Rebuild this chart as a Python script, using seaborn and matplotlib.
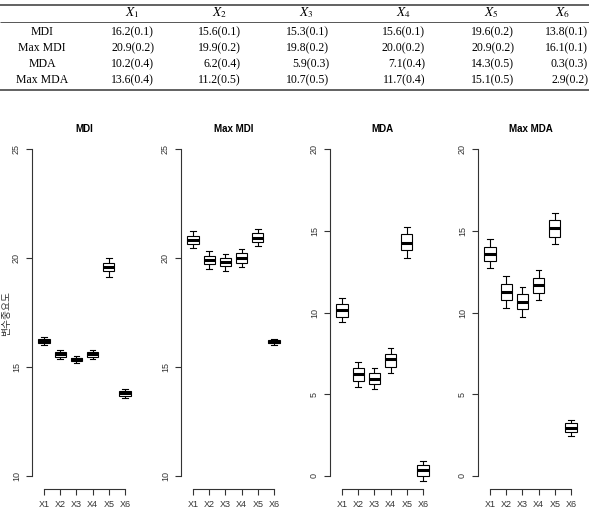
import pandas as pd
import matplotlib
matplotlib.use('Agg')
import matplotlib.pyplot as plt
import seaborn as sns
import numpy as np

# Table values: mean(sd) of variable importance
row_labels = ['MDI', 'Max MDI', 'MDA', 'Max MDA']
col_labels = [r'$X_1$', r'$X_2$', r'$X_3$', r'$X_4$', r'$X_5$', r'$X_6$']
tab_means = [[16.2, 15.6, 15.3, 15.6, 19.6, 13.8],
             [20.9, 19.9, 19.8, 20.0, 20.9, 16.1],
             [10.2, 6.2, 5.9, 7.1, 14.3, 0.3],
             [13.6, 11.2, 10.7, 11.7, 15.1, 2.9]]
tab_sds = [[0.1, 0.1, 0.1, 0.1, 0.2, 0.1],
           [0.2, 0.2, 0.2, 0.2, 0.2, 0.1],
           [0.4, 0.4, 0.3, 0.4, 0.5, 0.3],
           [0.4, 0.5, 0.5, 0.4, 0.5, 0.2]]

# Boxplot summaries: [low whisker, q1, median, q3, high whisker]
variables = ['X1', 'X2', 'X3', 'X4', 'X5', 'X6']
mdi = [[15.99, 16.08, 16.19, 16.28, 16.39],
       [15.35, 15.47, 15.58, 15.67, 15.78],
       [15.16, 15.26, 15.35, 15.42, 15.50],
       [15.36, 15.46, 15.58, 15.67, 15.78],
       [19.15, 19.41, 19.61, 19.79, 20.02],
       [13.59, 13.68, 13.79, 13.89, 13.98]]
max_mdi = [[20.46, 20.65, 20.83, 21.03, 21.23],
           [19.50, 19.71, 19.91, 20.11, 20.33],
           [19.42, 19.64, 19.84, 20.02, 20.17],
           [19.58, 19.79, 20.02, 20.22, 20.42],
           [20.53, 20.73, 20.94, 21.14, 21.35],
           [16.02, 16.08, 16.16, 16.24, 16.30]]
mda = [[9.42, 9.74, 10.15, 10.52, 10.91],
       [5.45, 5.82, 6.23, 6.60, 6.97],
       [5.29, 5.60, 5.92, 6.27, 6.58],
       [6.31, 6.66, 7.13, 7.48, 7.84],
       [13.34, 13.83, 14.28, 14.79, 15.26],
       [-0.31, -0.02, 0.35, 0.65, 0.94]]
max_mda = [[12.75, 13.18, 13.61, 14.03, 14.48],
           [10.26, 10.75, 11.24, 11.73, 12.24],
           [9.74, 10.21, 10.66, 11.13, 11.58],
           [10.77, 11.22, 11.69, 12.13, 12.60],
           [14.20, 14.65, 15.16, 15.63, 16.08],
           [2.47, 2.70, 2.96, 3.21, 3.41]]

panels = [('MDI', mdi, (10, 25)), ('Max MDI', max_mdi, (10, 25)),
          ('MDA', mda, (0, 20)), ('Max MDA', max_mda, (0, 20))]

W, H = 589, 509
plt.rcParams['font.family'] = ['Liberation Sans', 'Noto Sans CJK KR']
plt.rcParams['mathtext.fontset'] = 'stix'
fig = plt.figure(figsize=(W / 100, H / 100), dpi=100)

# ---- table ----
tab = fig.add_axes([0, (H - 95) / H, 1, 95 / H])
tab.set_xlim(0, W)
tab.set_ylim(95, 0)
tab.axis('off')
head_x = [132, 219, 306, 403, 491, 562]
right_x = [154, 241, 329, 425, 514, 588]
row_y = [32, 48, 64, 80]
serif = 'Liberation Serif'
for cx, lab in zip(head_x, col_labels):
    tab.text(cx, 13, lab, ha='center', va='center', fontsize=9.5)
for i, lab in enumerate(row_labels):
    tab.text(42, row_y[i], lab, ha='center', va='center', fontsize=8.5, family=serif)
    for j in range(6):
        tab.text(right_x[j], row_y[i], f'{tab_means[i][j]:.1f}({tab_sds[i][j]:.1f})',
                 ha='right', va='center', fontsize=8.5, family=serif)
tab.hlines([4.5, 89.5], 0, W, color='#555555', linewidth=1.3)
tab.hlines([22], 0, W, color='#555555', linewidth=0.7)

# ---- boxplots ----
lefts = [32, 181, 330, 478]
pw = 105
bottom, top = 489, 136
for (title, vals, (ylo, yhi)), left in zip(panels, lefts):
    ax = fig.add_axes([left / W, (H - bottom) / H, pw / W, (bottom - top) / H])
    df = pd.DataFrame({
        'variable': np.repeat(variables, 5),
        'importance': np.concatenate(vals),
    })
    sns.boxplot(data=df, x='variable', y='importance', ax=ax,
                whis=(0, 100), width=0.7, color='white', saturation=1,
                linecolor='black', linewidth=0.8,
                medianprops={'linewidth': 2.2, 'color': 'black'})
    pad = 0.04 * (yhi - ylo)
    ax.set_ylim(ylo - pad, yhi + pad)
    ax.set_xlim(-0.74, 5.74)
    ax.set_yticks(np.arange(ylo, yhi + 1, 5))
    ax.set_xticks(range(6))
    ax.set_xticklabels(variables)
    for s in ['top', 'right']:
        ax.spines[s].set_visible(False)
    ax.spines['left'].set_bounds(ylo, yhi)
    ax.spines['bottom'].set_bounds(0, 5)
    for s in ['left', 'bottom']:
        ax.spines[s].set_linewidth(0.8)
        ax.spines[s].set_color('#333333')
    ax.tick_params(axis='both', direction='out', length=4, width=0.8,
                   color='#333333', labelsize=6.5, labelcolor='#333333', pad=4)
    for lab in ax.get_yticklabels():
        lab.set_rotation(90)
        lab.set_va('center')
    ax.set_xlabel('')
    ax.set_ylabel('')
    ax.set_title(title, fontsize=7, fontweight='bold', pad=3)
    ax.set_facecolor('white')

fig.text(6 / W, (H - 313) / H, '변수중요도', rotation=90, ha='center', va='center',
         fontsize=7, color='#333333', family=['Noto Sans CJK KR', 'DejaVu Sans'])

fig.savefig('out.png', dpi=100, facecolor='white')
